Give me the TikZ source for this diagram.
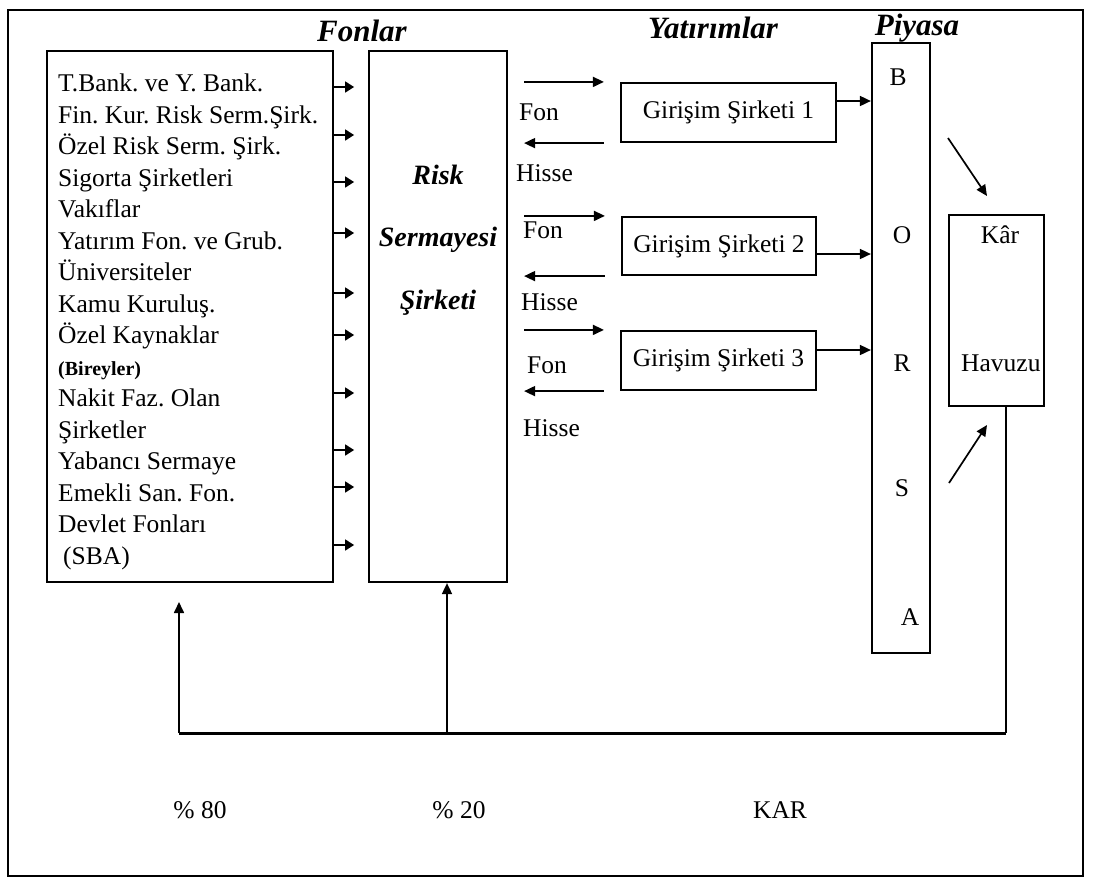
\documentclass[tikz,border=0pt]{standalone}
\usepackage{fontspec}
\setmainfont{Liberation Serif}
\frenchspacing
\usetikzlibrary{arrows.meta,positioning,calc}

\begin{document}
\begin{tikzpicture}[
  x=1pt, y=-1pt,
  font=\fontsize{25.5}{31.5}\selectfont,
  box/.style={draw, line width=2.2pt, inner sep=0pt},
  title/.style={font=\fontsize{31}{32}\selectfont\bfseries\itshape},
  ar/.style={-{Triangle[length=11pt,width=10pt]}, line width=1.7pt},
  short/.style={-{Triangle[length=9pt,width=11pt]}, line width=1.7pt},
  lbl/.style={anchor=west, inner sep=0pt},
]
\useasboundingbox (0,0) rectangle (1098,887);
\draw[line width=2.4pt] (8,10) rectangle (1083,876);

% ---- column titles ----
\node[title] (tfon) at (362,31) {Fonlar};
\node[title] (tyat) at (713,28) {Yatırımlar};
\node[title] (tpiy) at (917,28) {Piyasa};

% ---- fund sources ----
\node[box, minimum width=286pt, minimum height=531pt] (src) at (190,316.5) {};
\node[inner sep=0pt, align=left, anchor=north west] (srclist) at (58,74)
  {T.Bank. ve Y. Bank.\\Fin. Kur. Risk Serm.Şirk.\\Özel Risk Serm. Şirk.\\Sigorta Şirketleri\\Vakıflar\\
   Yatırım Fon. ve Grub.\\Üniversiteler\\Kamu Kuruluş.\\Özel Kaynaklar\\{\fontsize{20}{31.5}\selectfont\bfseries(Bireyler)}\\
   Nakit Faz. Olan\\Şirketler\\Yabancı Sermaye\\Emekli San. Fon.\\Devlet Fonları\\\hspace*{5pt}(SBA)};

% ---- risk capital company ----
\node[box, minimum width=138pt, minimum height=531pt] (risk) at (438,316.5) {};
\node[font=\fontsize{28}{62.5}\selectfont\bfseries\itshape, align=center] (risktxt) at (438,240)
  {Risk\\Sermayesi\\Şirketi};
\foreach \yy in {87,135,182,233,293,335,393,450,487,545}
  \draw[short] (src.east |- 0,\yy) -- ++(20,0);

% ---- investments ----
\node[box, minimum width=215pt, minimum height=59pt] (g1) at (728.5,112.5) {Girişim Şirketi 1};
\node[box, minimum width=194pt, minimum height=58pt] (g2) at (719,246) {Girişim Şirketi 2};
\node[box, minimum width=195pt, minimum height=59pt] (g3) at (718.5,360.5) {Girişim Şirketi 3};

\draw[ar] ($(risk.east |- g1.north)+(16,0)$) -- ($(g1.north west)+(-16,0)$);
\draw[ar] ($(g1.south west)+(-16,0)$) -- ($(risk.east |- g1.south)+(16,0)$);
\draw[ar] ($(risk.east |- g2.north)+(16,0)$) -- ($(g2.north west)+(-16,0)$);
\draw[ar] ($(g2.south west)+(-16,0)$) -- ($(risk.east |- g2.south)+(16,0)$);
\draw[ar] ($(risk.east |- g3.north)+(16,0)$) -- ($(g3.north west)+(-16,0)$);
\draw[ar] ($(g3.south west)+(-16,0)$) -- ($(risk.east |- g3.south)+(16,0)$);
\node[lbl] (fon1) at (519,112) {Fon};
\node[lbl] (his1) at (516,173) {Hisse};
\node[lbl] (fon2) at (523,230) {Fon};
\node[lbl] (his2) at (521,302) {Hisse};
\node[lbl] (fon3) at (527,365) {Fon};
\node[lbl] (his3) at (523,428) {Hisse};

% ---- market ----
\node[box, minimum width=58pt, minimum height=610pt] (borsa) at (901,348) {};
\node (lb) at (898,77) {B};
\node (lo) at (902,235) {O};
\node (lr) at (902,363) {R};
\node (ls) at (902,488) {S};
\node (la) at (910,617) {A};
\draw[ar] (g1.east |- 0,101) -- (borsa.west |- 0,101);
\draw[ar] (g2.east |- 0,254) -- (borsa.west |- 0,254);
\draw[ar] (g3.east |- 0,350) -- (borsa.west |- 0,350);

% ---- profit pool ----
\node[box, minimum width=95pt, minimum height=191pt] (kar) at (996.5,310.5) {};
\node (kartxt) at (1000,235) {Kâr};
\node[lbl] (havtxt) at (961,363) {Havuzu};
\coordinate (d1s) at (948,138);
\coordinate (d1e) at (987,196);
\coordinate (d2s) at (949,483);
\coordinate (d2e) at (987,425);
\draw[ar] (d1s) -- (d1e);
\draw[ar] (d2s) -- (d2e);

% ---- profit back to the funds ----
\coordinate (loopR) at (1006,733);
\coordinate (loopM) at (447,733);
\coordinate (loopL) at (179,733);
\coordinate (srcin) at (179,602);
\draw[line width=1.7pt] (kar.south -| loopR) -- (loopR);
\draw[line width=3pt] (loopL) -- (loopR);
\draw[ar] (loopL) -- (srcin);
\draw[ar] (loopM) -- (risk.south -| loopM);

\node (p80) at (200,810) {\% 80};
\node (p20) at (459,810) {\% 20};
\node (kartot) at (780,810) {KAR};
\end{tikzpicture}
\end{document}
